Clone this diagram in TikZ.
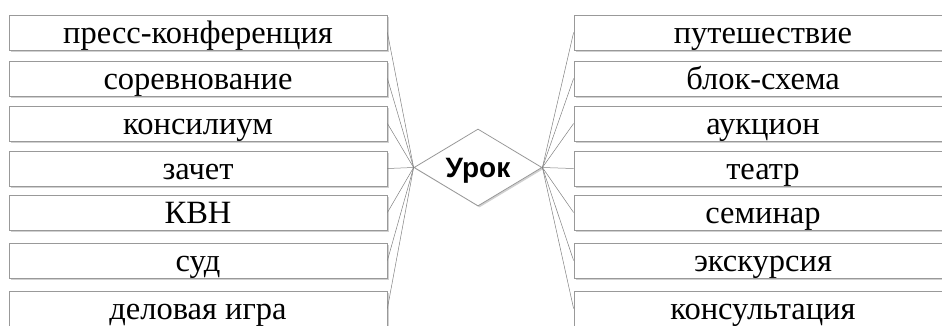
\documentclass[tikz,border=0pt]{standalone}
\usepackage{fontspec}
\setmainfont{Liberation Serif}
\newfontfamily\urokfont{Liberation Sans Bold}
\usetikzlibrary{shapes.geometric,shadows}
\tikzset{
  item/.style={draw=black!40, line width=0.8pt, fill=white, minimum width=378pt, minimum height=35pt,
    inner sep=0pt, text height=21.5pt, text depth=0pt, align=center,
    font=\fontsize{32.5}{36}\selectfont,
    drop shadow={shadow xshift=1.5pt, shadow yshift=-1.5pt, fill=black!30, opacity=0.6}},
  hub/.style={diamond, draw=black!40, line width=0.8pt, fill=white, minimum width=128pt, minimum height=77pt,
    aspect=1.66, inner sep=0pt, text height=19pt, text depth=0pt, font=\urokfont\fontsize{28}{32}\selectfont,
    drop shadow={shadow xshift=1.5pt, shadow yshift=-1.5pt, fill=black!30, opacity=0.6}},
  link/.style={draw=black!50, line width=0.5pt}
}
\begin{document}
\begin{tikzpicture}[x=1pt,y=-1pt]
\useasboundingbox (0,0) rectangle (942,325);
\clip (0,0) rectangle (942,325);
\node[hub] (c) at (478,167.5) {Урок};
\foreach \n/\y/\t in {l1/32.5/пресс-конференция, l2/78.5/соревнование, l3/123.5/консилиум, l4/168.5/зачет, l5/212.5/КВН, l6/260.5/суд, l7/308.5/деловая игра}{
  \node[item] (\n) at (198,\y) {\t};
  \draw[link] (\n.east) -- (c.west);
}
\foreach \n/\y/\t in {r1/32.5/путешествие, r2/78.5/блок-схема, r3/123.5/аукцион, r4/168.5/театр, r5/212.5/семинар, r6/260.5/экскурсия, r7/308.5/консультация}{
  \node[item] (\n) at (763,\y) {\t};
  \draw[link] (\n.west) -- (c.east);
}
\end{tikzpicture}
\end{document}
